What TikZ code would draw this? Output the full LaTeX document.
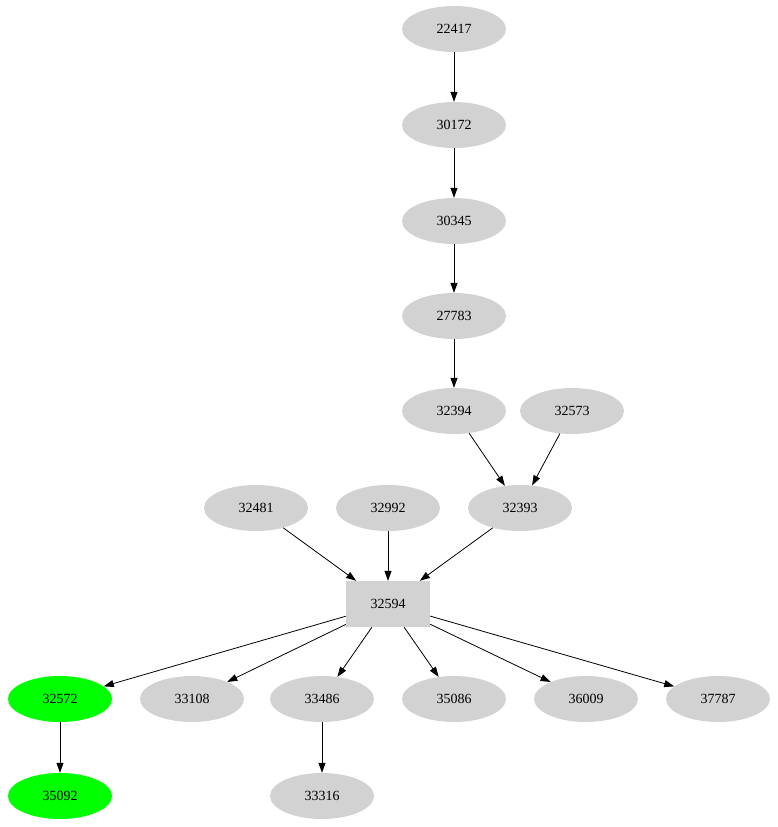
\documentclass[tikz,border=0pt]{standalone}
\usepackage{fontspec}
\setmainfont{Liberation Serif}
\usetikzlibrary{shapes.geometric,arrows.meta}
\tikzset{
  vert/.style={ellipse, fill=gray!35, inner sep=0pt, minimum width=104pt, minimum height=46pt, font=\fontsize{14}{16}\selectfont},
  hit/.style={vert, fill=green},
  hub/.style={rectangle, fill=gray!35, inner sep=0pt, minimum width=84pt, minimum height=46pt, font=\fontsize{14}{16}\selectfont},
  edge/.style={-{Triangle[length=10pt,width=7pt]}, line width=0.8pt}
}
\begin{document}
\begin{tikzpicture}[x=1pt,y=-1pt]
	\useasboundingbox (0,0) rectangle (778,827);
	
	\node[vert] (a) at (454,29) {22417};
	\node[vert] (b) at (454,125) {30172};
	\node[vert] (c) at (454,221) {30345};
	\node[vert] (d) at (454,316) {27783};
	\node[vert] (e) at (454,411) {32394};
	\node[vert] (f) at (572,411) {32573};
	\node[vert] (g) at (520,508) {32393};
	\node[vert] (h) at (256,508) {32481};
	\node[vert] (i) at (388,508) {32992};
	\node[hub] (hub) at (388,604) {32594};
	
	\node[hit] (j) at (60,699) {32572};
	\node[vert] (k) at (192,699) {33108};
	\node[vert] (l) at (322,699) {33486};
	\node[vert] (m) at (454,699) {35086};
	\node[vert] (n) at (586,699) {36009};
	\node[vert] (o) at (718,699) {37787};
	\node[hit] (p) at (60,796) {35092};
	\node[vert] (q) at (322,796) {33316};
	
	\draw[edge] (a) -- (b);
	\draw[edge] (b) -- (c);
	\draw[edge] (c) -- (d);
	\draw[edge] (d) -- (e);
	\draw[edge] (e) -- (g);
	\draw[edge] (f) -- (g);
	\draw[edge] (g) -- (hub);
	\draw[edge] (h) -- (hub);
	\draw[edge] (i) -- (hub);
	
	\draw[edge] (hub) -- (j);
	\draw[edge] (hub) -- (k);
	\draw[edge] (hub) -- (l);
	\draw[edge] (hub) -- (m);
	\draw[edge] (hub) -- (n);
	\draw[edge] (hub) -- (o);
	\draw[edge] (j) -- (p);
	\draw[edge] (l) -- (q);
\end{tikzpicture}
\end{document}
